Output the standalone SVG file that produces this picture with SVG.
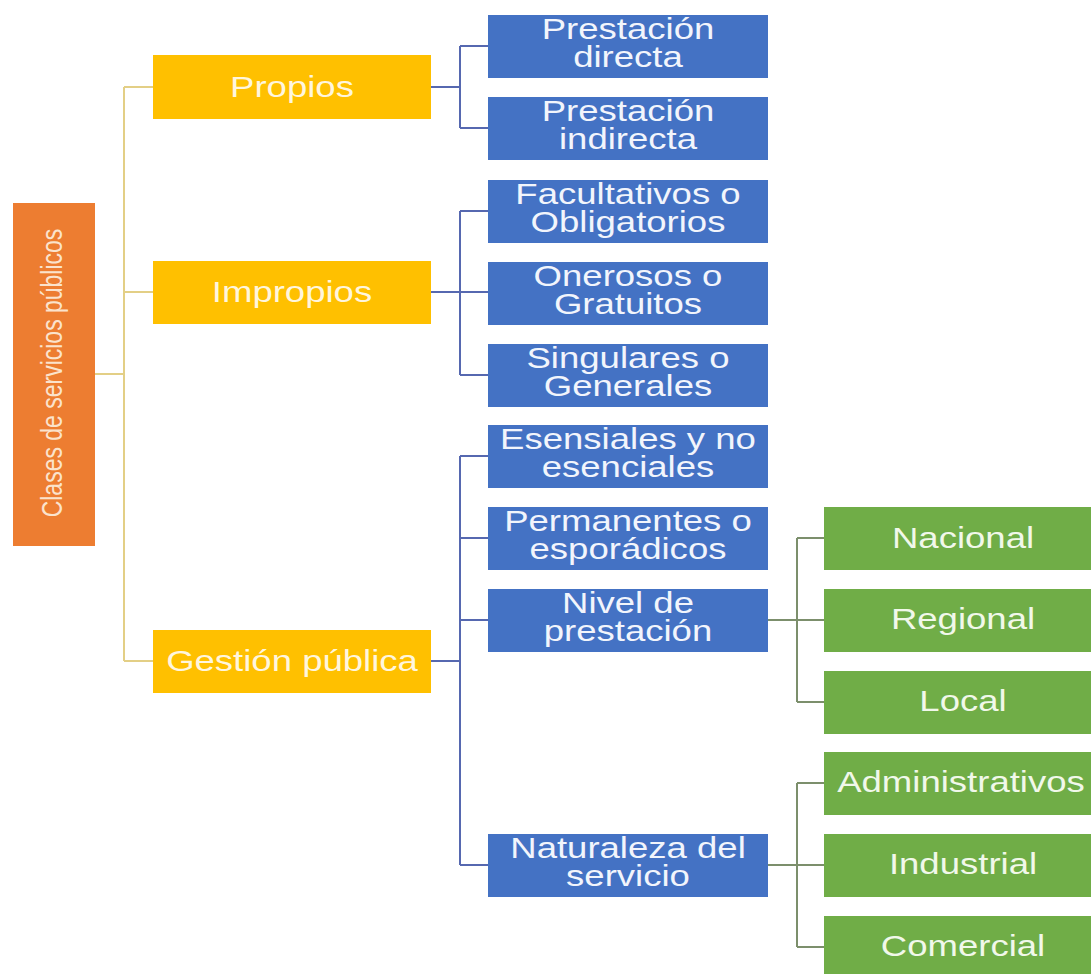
<svg xmlns="http://www.w3.org/2000/svg" width="1091" height="974" viewBox="0 0 1091 974">
  <style>
    .root { fill: #ED7D31; }
    .y { fill: #FFC000; }
    .b { fill: #4472C4; }
    .g { fill: #70AD47; }
    text { font-family: "Liberation Sans", Arial, sans-serif; text-anchor: middle; }
    .ty { font-size: 29px; fill: #FFF6DE; }
    .tb { font-size: 29px; fill: #F2F5FC; }
    .tg { font-size: 29px; fill: #F1F8EA; }
    .tr { font-size: 23px; fill: #FBE3CC; }
    .cy { fill: none; stroke: #E3CF86; stroke-width: 2; }
    .cb { fill: none; stroke: #5668B0; stroke-width: 2; }
    .cg { fill: none; stroke: #7C8F6C; stroke-width: 2; }
  </style>
  <rect width="1091" height="974" fill="#FFFFFF"/>

  <g id="connectors">
    <path class="cy" d="M95 374 H124 M124 87 V661 M124 87 H153 M124 292 H153 M124 661 H153"/>
    <path class="cb" d="M431 87 H460 M460 46 V128 M460 46 H488 M460 128 H488"/>
    <path class="cb" d="M431 292 H488 M460 211 V375 M460 211 H488 M460 375 H488"/>
    <path class="cb" d="M431 661 H460 M460 456 V865 M460 456 H488 M460 538 H488 M460 620 H488 M460 865 H488"/>
    <path class="cg" d="M768 620 H824 M797 538 V702 M797 538 H824 M797 702 H824"/>
    <path class="cg" d="M768 865 H824 M797 783 V947 M797 783 H824 M797 947 H824"/>
  </g>

  <g id="root">
    <rect class="root" x="13" y="203" width="82" height="343"/>
    <text class="tr" transform="translate(62,373) scale(1.27,1) rotate(-90)">Clases de servicios públicos</text>
  </g>

  <g id="propios">
    <rect class="y" x="153" y="55" width="278" height="64"/>
    <text class="ty" transform="translate(292,97) scale(1.26,1)">Propios</text>
  </g>
  <g id="impropios">
    <rect class="y" x="153" y="261" width="278" height="63"/>
    <text class="ty" transform="translate(292,302) scale(1.26,1)">Impropios</text>
  </g>
  <g id="gestion">
    <rect class="y" x="153" y="630" width="278" height="63"/>
    <text class="ty" transform="translate(292,671) scale(1.26,1)">Gestión pública</text>
  </g>

  <g id="prestacion-directa">
    <rect class="b" x="488" y="15" width="280" height="63"/>
    <text class="tb" transform="translate(628,39) scale(1.26,1)">Prestación</text>
    <text class="tb" transform="translate(628,67) scale(1.26,1)">directa</text>
  </g>
  <g id="prestacion-indirecta">
    <rect class="b" x="488" y="97" width="280" height="63"/>
    <text class="tb" transform="translate(628,121) scale(1.26,1)">Prestación</text>
    <text class="tb" transform="translate(628,149) scale(1.26,1)">indirecta</text>
  </g>
  <g id="facultativos">
    <rect class="b" x="488" y="180" width="280" height="63"/>
    <text class="tb" transform="translate(628,204) scale(1.26,1)">Facultativos o</text>
    <text class="tb" transform="translate(628,232) scale(1.26,1)">Obligatorios</text>
  </g>
  <g id="onerosos">
    <rect class="b" x="488" y="262" width="280" height="63"/>
    <text class="tb" transform="translate(628,286) scale(1.26,1)">Onerosos o</text>
    <text class="tb" transform="translate(628,314) scale(1.26,1)">Gratuitos</text>
  </g>
  <g id="singulares">
    <rect class="b" x="488" y="344" width="280" height="63"/>
    <text class="tb" transform="translate(628,368) scale(1.26,1)">Singulares o</text>
    <text class="tb" transform="translate(628,396) scale(1.26,1)">Generales</text>
  </g>
  <g id="esensiales">
    <rect class="b" x="488" y="425" width="280" height="63"/>
    <text class="tb" transform="translate(628,449) scale(1.26,1)">Esensiales y no</text>
    <text class="tb" transform="translate(628,477) scale(1.26,1)">esenciales</text>
  </g>
  <g id="permanentes">
    <rect class="b" x="488" y="507" width="280" height="63"/>
    <text class="tb" transform="translate(628,531) scale(1.26,1)">Permanentes o</text>
    <text class="tb" transform="translate(628,559) scale(1.26,1)">esporádicos</text>
  </g>
  <g id="nivel">
    <rect class="b" x="488" y="589" width="280" height="63"/>
    <text class="tb" transform="translate(628,613) scale(1.26,1)">Nivel de</text>
    <text class="tb" transform="translate(628,641) scale(1.26,1)">prestación</text>
  </g>
  <g id="naturaleza">
    <rect class="b" x="488" y="834" width="280" height="63"/>
    <text class="tb" transform="translate(628,858) scale(1.26,1)">Naturaleza del</text>
    <text class="tb" transform="translate(628,886) scale(1.26,1)">servicio</text>
  </g>

  <g id="nacional">
    <rect class="g" x="824" y="507" width="280" height="63"/>
    <text class="tg" transform="translate(963,548) scale(1.26,1)">Nacional</text>
  </g>
  <g id="regional">
    <rect class="g" x="824" y="589" width="280" height="63"/>
    <text class="tg" transform="translate(963,629) scale(1.26,1)">Regional</text>
  </g>
  <g id="local">
    <rect class="g" x="824" y="671" width="280" height="63"/>
    <text class="tg" transform="translate(963,711) scale(1.26,1)">Local</text>
  </g>
  <g id="administrativos">
    <rect class="g" x="824" y="752" width="280" height="63"/>
    <text class="tg" transform="translate(961,792) scale(1.26,1)">Administrativos</text>
  </g>
  <g id="industrial">
    <rect class="g" x="824" y="834" width="280" height="63"/>
    <text class="tg" transform="translate(963,874) scale(1.26,1)">Industrial</text>
  </g>
  <g id="comercial">
    <rect class="g" x="824" y="916" width="280" height="63"/>
    <text class="tg" transform="translate(963,956) scale(1.26,1)">Comercial</text>
  </g>
</svg>
